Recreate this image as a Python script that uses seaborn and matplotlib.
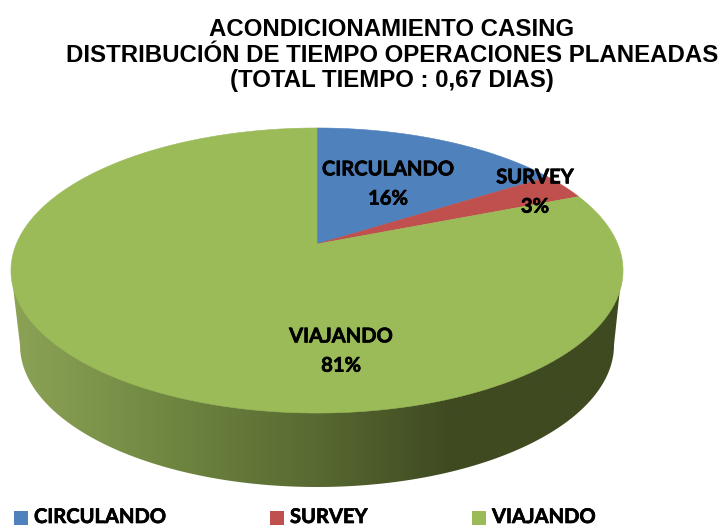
import numpy as np
import matplotlib
matplotlib.use("Agg")
import matplotlib.pyplot as plt
import matplotlib.patheffects as pe
from matplotlib.colors import LinearSegmentedColormap
from matplotlib.patches import Polygon, Rectangle
import seaborn as sns

# datos del grafico
categorias = ["CIRCULANDO", "SURVEY", "VIAJANDO"]
porcentajes = [16, 3, 81]
colores = sns.color_palette(["#4F81BD", "#C0504D", "#9BBB59"])
titulo = ("ACONDICIONAMIENTO CASING\n"
          "DISTRIBUCIÓN DE TIEMPO OPERACIONES PLANEADAS\n"
          "(TOTAL TIEMPO : 0,67 DIAS)")

# geometria en pixeles de la imagen
CX, CY = 317.0, 244.0
K = 0.186
A, B = 300.7, 137.6
BASE_CX, BASE_CY, BASE_RX, BASE_RY = 317.0, 345.0, 297.0, 142.0
SIDE_X = [11, 150, 317, 450, 622]
SIDE_C = ["#8CA356", "#728A43", "#586932", "#3F4A21", "#3F4A21"]
GRUESO = [pe.withStroke(linewidth=0.5, foreground="black")]


def proyectar(xy):
    # circulo unitario -> elipse con perspectiva (el vertice queda arriba del centro)
    d = 1 + K * xy[:, 1]
    return np.column_stack((CX + A * xy[:, 0] / d, CY - B * xy[:, 1] / d))


sns.set_theme(style="white")
plt.rcParams["font.family"] = ["Liberation Sans", "DejaVu Sans"]

fig = plt.figure(figsize=(7.21, 5.27), dpi=100)
ax = fig.add_axes([0, 0, 1, 1])

# pared lateral con degradado
t = np.linspace(0, 1, 400)
grad = LinearSegmentedColormap.from_list(
    "lado", [((x - SIDE_X[0]) / (SIDE_X[-1] - SIDE_X[0]), c) for x, c in zip(SIDE_X, SIDE_C)])
img = ax.imshow(np.linspace(0, 1, 600)[None, :], cmap=grad, aspect="auto",
                extent=(SIDE_X[0], SIDE_X[-1], 495, 260), zorder=1)
ang = np.pi + t * np.pi
base = np.column_stack((BASE_CX + BASE_RX * np.cos(ang), BASE_CY - BASE_RY * np.sin(ang)))
contorno = np.vstack(([SIDE_X[0], 270], base, [SIDE_X[-1], 270]))
clip = Polygon(contorno, closed=True, transform=ax.transData, facecolor="none", edgecolor="none")
ax.add_patch(clip)
img.set_clip_path(clip)

# tapa: pie normal, luego cada sector se proyecta
wedges, _ = ax.pie(porcentajes, colors=colores, startangle=90, counterclock=False, radius=1)
for w, color in zip(wedges, colores):
    th = np.radians(np.linspace(w.theta1, w.theta2, 200))
    puntos = np.vstack(([0, 0], np.column_stack((np.cos(th), np.sin(th)))))
    ax.add_patch(Polygon(proyectar(puntos), closed=True, facecolor=color,
                         edgecolor=color, linewidth=0.4, zorder=2))
    w.remove()

# etiquetas
etiqueta_xy = [(388, 184), (535, 192), (341, 351)]
for nombre, valor, (x, y) in zip(categorias, porcentajes, etiqueta_xy):
    ax.text(x, y, f"{nombre}\n{valor}%", ha="center", va="center", family="Lato",
            fontweight="bold", fontsize=14.5, color="black", linespacing=1.58, zorder=3,
            path_effects=GRUESO)

# titulo
ax.text(392, 55, titulo, ha="center", va="center", fontweight="bold", fontsize=17.3,
        color="black", linespacing=1.14, zorder=3)

# leyenda
ley_x = [14, 270, 472]
for nombre, color, x in zip(categorias, colores, ley_x):
    ax.add_patch(Rectangle((x, 511), 14, 14, facecolor=color, edgecolor="none"))
    ax.text(x + 20, 517, nombre, ha="left", va="center", family="Lato",
            fontweight="bold", fontsize=14.5, color="black", path_effects=GRUESO)

ax.set_xlim(0, 721)
ax.set_ylim(527, 0)
ax.set_axis_off()

fig.savefig("out.png", dpi=100)
